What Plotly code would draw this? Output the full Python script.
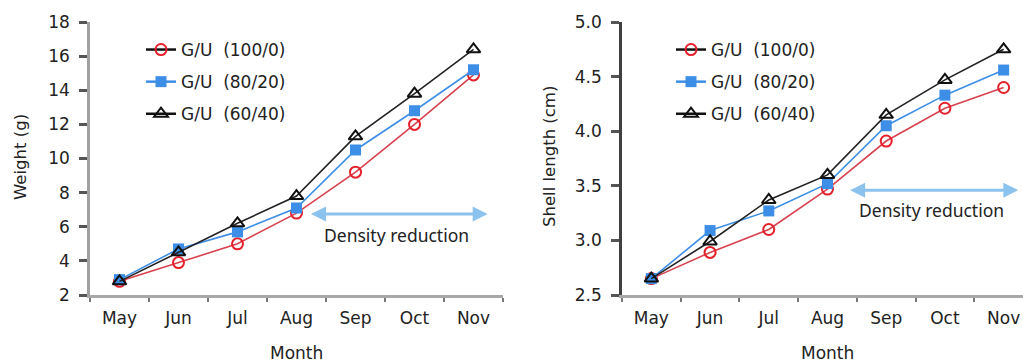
import plotly.graph_objects as go

months = ["May", "Jun", "Jul", "Aug", "Sep", "Oct", "Nov"]
series_names = ["G/U  (100/0)", "G/U  (80/20)", "G/U  (60/40)"]

weight_100_0 = [2.8, 3.9, 5.0, 6.8, 9.2, 12.0, 14.9]
weight_80_20 = [2.9, 4.7, 5.7, 7.1, 10.5, 12.8, 15.2]
weight_60_40 = [2.8, 4.5, 6.2, 7.8, 11.3, 13.8, 16.4]

length_100_0 = [2.65, 2.89, 3.10, 3.47, 3.91, 4.21, 4.40]
length_80_20 = [2.65, 3.09, 3.27, 3.52, 4.05, 4.33, 4.56]
length_60_40 = [2.65, 2.99, 3.37, 3.60, 4.15, 4.47, 4.75]

W, H = 1023, 362
FONT = "DejaVu Sans"
FONT2 = "Noto Sans"
TXT = "#222222"

styles = [
    dict(line=dict(color="#d8424f", width=1.6),
         marker=dict(symbol="circle-open", size=11, color="#e5202b", line=dict(width=2, color="#e5202b")),
         legend_line="#111111"),
    dict(line=dict(color="#3d8ee6", width=1.6),
         marker=dict(symbol="square", size=11, color="#3d8ee6", line=dict(width=0)),
         legend_line="#3d8ee6"),
    dict(line=dict(color="#222222", width=1.6),
         marker=dict(symbol="triangle-up-open", size=12, color="#111111", line=dict(width=2, color="#111111")),
         legend_line="#111111"),
]

fig = go.Figure()

panels = [
    ("x", "y", "legend", [weight_100_0, weight_80_20, weight_60_40]),
    ("x2", "y2", "legend2", [length_100_0, length_80_20, length_60_40]),
]

for xa, ya, lg, data in panels:
    for name, vals, st in zip(series_names, data, styles):
        fig.add_trace(go.Scatter(
            x=months, y=vals, mode="lines+markers", name=name,
            line=st["line"], marker=st["marker"], xaxis=xa, yaxis=ya,
            showlegend=False, cliponaxis=False))
    for i, (name, st) in enumerate(zip(series_names, styles)):
        fig.add_trace(go.Scatter(
            x=[None], y=[None], mode="lines+markers", name=name,
            line=dict(color=st["legend_line"], width=2.5), marker=st["marker"],
            xaxis=xa, yaxis=ya, legend=lg, legendgroup=lg + str(i), showlegend=True))

ydom = [(H - 295) / H, (H - 22) / H]

common_x = dict(type="category", tickson="boundaries", ticks="outside", ticklen=4, tickwidth=2,
                tickcolor="#777777", showline=True, linecolor="#a8a8a8", linewidth=2.5,
                showgrid=False, zeroline=False, tickfont=dict(family=FONT, size=17, color=TXT),
                ticklabelstandoff=6, fixedrange=True, automargin=False)
common_y = dict(ticks="outside", ticklen=8, tickwidth=2.5, tickcolor="#555555", showline=True,
                linewidth=2.5, showgrid=False, zeroline=False, automargin=False, fixedrange=True,
                tickfont=dict(family=FONT, size=17, color=TXT), ticklabelstandoff=6, domain=ydom)

legend_common = dict(xanchor="left", yanchor="top", bgcolor="rgba(0,0,0,0)",
                     font=dict(family=FONT, size=17, color=TXT), traceorder="grouped",
                     tracegroupgap=7, itemsizing="trace")

fig.update_layout(
    width=W, height=H, autosize=False,
    margin=dict(l=0, r=0, t=0, b=0, autoexpand=False),
    paper_bgcolor="white", plot_bgcolor="white",
    font=dict(family=FONT, size=16, color=TXT),
    xaxis=dict(domain=[90 / W, 503 / W], range=[-0.5, 6.5], anchor="y", **common_x),
    yaxis=dict(range=[2, 18], dtick=2, anchor="x", linecolor="#a0a0a0", **common_y),
    xaxis2=dict(domain=[622 / W, 1.0], range=[-0.5, 6.33], anchor="y2", **common_x),
    yaxis2=dict(range=[2.5, 5.0], dtick=0.5, tickformat=".1f", anchor="x2", linecolor="#404040",
                **common_y),
    legend=dict(x=141 / W, y=(H - 32) / H, **legend_common),
    legend2=dict(x=671 / W, y=(H - 32) / H, **legend_common),
)

arrow_color = "#8cc2ee"
annots = [
    dict(xref="x", yref="y", axref="x", ayref="y", x=6.24, y=6.75, ax=3.22, ay=6.75),
    dict(xref="x2", yref="y2", axref="x2", ayref="y2", x=6.25, y=3.46, ax=3.36, ay=3.46),
]
for a in annots:
    fig.add_annotation(text="", showarrow=True, arrowhead=2, arrowside="end+start", arrowsize=1,
                       arrowwidth=3, arrowcolor=arrow_color, **a)

fig.add_annotation(xref="x", yref="y", x=4.69, y=5.5, text="Density reduction", showarrow=False,
                   font=dict(family=FONT2, size=17.5, color=TXT))
fig.add_annotation(xref="x2", yref="y2", x=4.77, y=3.28, text="Density reduction", showarrow=False,
                   font=dict(family=FONT2, size=17.5, color=TXT))

# axis titles
title_font = dict(family=FONT, size=17, color=TXT)
fig.add_annotation(xref="paper", yref="paper", x=296 / W, y=(H - 353) / H, text="Month",
                   xanchor="center", yanchor="middle", showarrow=False, font=title_font)
fig.add_annotation(xref="paper", yref="paper", x=827 / W, y=(H - 353) / H, text="Month",
                   xanchor="center", yanchor="middle", showarrow=False, font=title_font)
fig.add_annotation(xref="paper", yref="paper", x=21 / W, y=(H - 157) / H, text="Weight (g)",
                   xanchor="center", yanchor="middle", textangle=-90, showarrow=False,
                   font=dict(family=FONT, size=16.5, color=TXT))
fig.add_annotation(xref="paper", yref="paper", x=550 / W, y=(H - 157) / H, text="Shell length (cm)",
                   xanchor="center", yanchor="middle", textangle=-90, showarrow=False,
                   font=dict(family=FONT, size=16.5, color=TXT))

fig.write_html("out.html", config={"displayModeBar": False},
               post_script="document.body.style.margin='0';document.body.style.overflow='hidden';")
